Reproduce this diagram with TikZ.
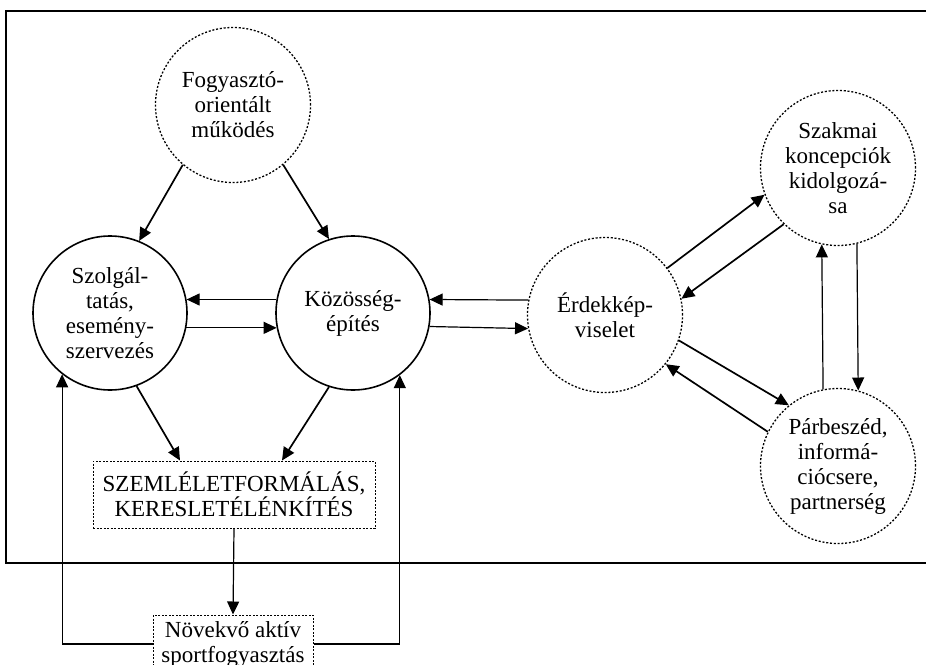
\documentclass[tikz,border=0pt]{standalone}
\usepackage{fontspec}
\setmainfont{Liberation Serif}
\usetikzlibrary{arrows.meta}
\begin{document}
\begin{tikzpicture}[x=1pt,y=-1pt,
  every node/.style={font=\fontsize{23}{25}\selectfont, align=center, inner sep=0pt},
  solidcirc/.style={circle, draw, line width=1.6pt, minimum size=154pt},
  dotcirc/.style={circle, draw, line width=1.3pt, dash pattern=on 2pt off 1.8pt, minimum size=155pt},
  dotbox/.style={draw, line width=1pt, dash pattern=on 2pt off 1.5pt},
  link/.style={line width=1.7pt, -{Triangle[length=13pt,width=12pt]}},
  thinlink/.style={line width=1.2pt, -{Triangle[length=13pt,width=12pt]}},
  frameline/.style={line width=1.5pt}]
\useasboundingbox (0,0) rectangle (926,664);

% open frame around the upper part
\draw[frameline] (926,11) -- (6,11) -- (6,563) -- (926,563);

% nodes
\node[dotcirc]   (fog) at (233,105) {Fogyasztó-\\orientált\\működés};
\node[solidcirc] (szo) at (110,313) {Szolgál-\\tatás,\\esemény-\\szervezés};
\node[solidcirc] (koz) at (353,313) {Közösség-\\építés};
\node[dotcirc]   (erd) at (605,315) {Érdekkép-\\viselet};
\node[dotcirc]   (sza) at (838,168) {Szakmai\\koncepciók\\kidolgozá-\\sa};
\node[dotcirc]   (par) at (838,466) {Párbeszéd,\\informá-\\ciócsere,\\partnerség};
\node[dotbox, minimum width=282pt, minimum height=67pt] (sze) at (234,494.5)
  {SZEMLÉLETFORMÁLÁS,\\KERESLETÉLÉNKÍTÉS};
\node[dotbox, minimum width=160pt, minimum height=58pt] (nov) at (233,644)
  {Növekvő aktív\\sportfogyasztás};

% connectors
\draw[link] (fog.230) -- (szo.68);
\draw[link] (fog.310) -- (koz.108);
\draw[thinlink] (koz.170) -- (szo.10);
\draw[thinlink] (szo.349) -- (koz.191);
\draw[thinlink] (erd.169) -- (koz.10);
\draw[thinlink] (koz.350) -- (erd.190);
\draw[link] (erd.37) -- (sza.200.5);
\draw[link] (sza.226.6) -- (erd.12.3);
\draw[link] (erd.341.6) -- (par.129.6);
\draw[link] (par.154) -- (erd.321);
\draw[thinlink] (par.101.8) -- (sza.258.2);
\draw[thinlink] (sza.284.3) -- (par.75.7);
\draw[link] (szo.290.5) -- ([xshift=-54pt]sze.north);
\draw[link] (koz.252) -- ([xshift=48pt]sze.north);
\draw[thinlink] (sze.south) -- (nov.north);
\draw[thinlink] (nov.west) -| (szo.232.75);
\draw[thinlink] (nov.east) -| (koz.307.6);
\end{tikzpicture}
\end{document}
